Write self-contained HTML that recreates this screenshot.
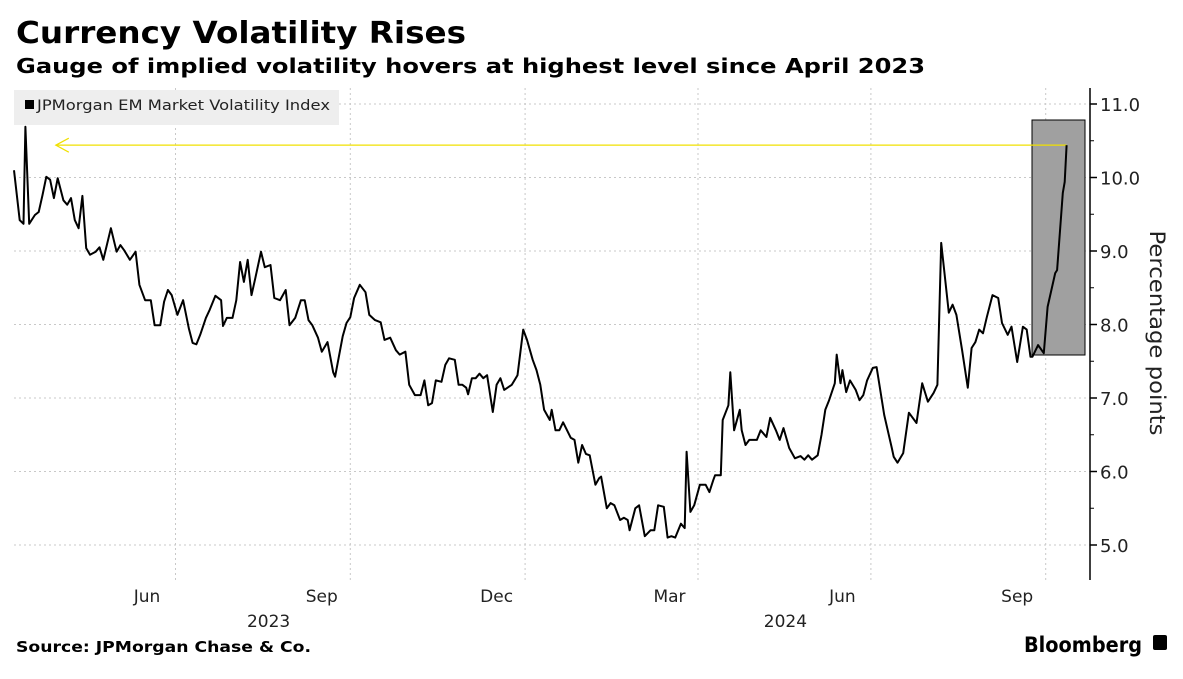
<!DOCTYPE html>
<html><head><meta charset="utf-8">
<style>
body{margin:0;background:#fff;width:1183px;height:675px;overflow:hidden;font-family:"DejaVu Sans","Liberation Sans",sans-serif;}
svg text{font-family:"DejaVu Sans","Liberation Sans",sans-serif;}
</style></head>
<body>
<svg id="chart" width="1183" height="675">
<text x="16" y="43" font-size="30" font-weight="bold" fill="#000" textLength="450" lengthAdjust="spacingAndGlyphs">Currency Volatility Rises</text>
<text x="16" y="73" font-size="20" font-weight="bold" fill="#000" textLength="909" lengthAdjust="spacingAndGlyphs">Gauge of implied volatility hovers at highest level since April 2023</text>
<g id="grid"></g>
<rect x="1032" y="120" width="53" height="235" fill="#a0a0a0" stroke="#000" stroke-width="1"/>
<g id="ann"></g>
<path id="line" fill="none" stroke="#000" stroke-width="2" stroke-linejoin="round"/>
<g>
<rect x="14" y="90" width="325" height="35" fill="#eeeeee"/>
<rect x="25" y="100" width="9" height="9" fill="#000"/>
<text x="37" y="110" font-size="14" fill="#222" textLength="293" lengthAdjust="spacingAndGlyphs">JPMorgan EM Market Volatility Index</text>
</g>
<g id="axes"></g>
<text transform="translate(1150,333) rotate(90)" text-anchor="middle" font-size="21" fill="#222" textLength="205" lengthAdjust="spacingAndGlyphs">Percentage points</text>
<text x="16" y="652" font-size="15" font-weight="bold" fill="#000" textLength="295" lengthAdjust="spacingAndGlyphs">Source: JPMorgan Chase &amp; Co.</text>
<text x="1024" y="652" font-size="21" font-weight="bold" fill="#000" textLength="118" lengthAdjust="spacingAndGlyphs">Bloomberg</text>
<rect x="1153" y="635" width="14" height="15" rx="2" fill="#000"/>
</svg>
<script>
const days=[0,3,5,6,8,11,13,15,17,19,21,23,26,28,30,32,34,36,38,40,43,45,47,51,54,56,58,61,64,66,69,72,73,74,77,79,81,83,86,89,92,94,96,98,101,103,106,109,110,112,115,117,119,121,123,125,127,130,132,135,137,140,143,145,148,151,153,155,157,160,162,165,168,169,173,175,177,179,182,185,187,190,193,195,198,201,203,206,208,211,214,216,218,220,222,225,227,229,232,234,236,238,239,241,243,245,247,249,252,254,256,258,262,265,268,270,273,275,277,279,282,283,285,287,289,293,295,297,299,301,303,306,308,309,312,314,316,319,321,323,324,327,329,332,335,337,339,342,344,346,348,351,353,354,356,358,361,364,366,368,369,372,373,376,377,379,382,383,385,387,391,393,396,398,401,403,405,408,411,414,416,418,420,423,425,427,429,432,433,435,436,438,440,443,445,447,449,452,454,458,462,463,465,468,471,475,478,481,484,486,488,492,494,496,499,502,504,506,508,510,512,515,518,520,523,525,528,531,533,535,536,539,542,544,548,549,552,553,554];
const values=[10.10,9.42,9.37,10.69,9.37,9.49,9.53,9.76,10.01,9.97,9.72,9.99,9.69,9.63,9.72,9.42,9.31,9.75,9.04,8.95,8.99,9.05,8.88,9.31,8.99,9.08,9.01,8.88,8.99,8.54,8.33,8.33,8.16,7.99,7.99,8.31,8.47,8.40,8.13,8.33,7.95,7.75,7.73,7.86,8.09,8.20,8.39,8.33,7.98,8.09,8.09,8.33,8.85,8.58,8.88,8.40,8.63,8.99,8.78,8.81,8.36,8.33,8.47,7.99,8.09,8.33,8.33,8.06,7.99,7.82,7.63,7.76,7.35,7.29,7.84,8.02,8.10,8.36,8.54,8.44,8.13,8.06,8.03,7.79,7.82,7.65,7.59,7.63,7.18,7.04,7.04,7.24,6.90,6.93,7.24,7.22,7.45,7.54,7.52,7.18,7.18,7.14,7.05,7.27,7.27,7.33,7.27,7.31,6.81,7.18,7.27,7.11,7.18,7.31,7.93,7.79,7.52,7.38,7.18,6.84,6.70,6.84,6.56,6.56,6.67,6.46,6.43,6.12,6.36,6.24,6.22,5.82,5.91,5.93,5.50,5.57,5.54,5.34,5.37,5.34,5.20,5.50,5.54,5.12,5.20,5.20,5.54,5.52,5.10,5.12,5.10,5.29,5.23,6.27,5.45,5.54,5.82,5.82,5.72,5.88,5.95,5.95,6.70,6.90,7.35,6.56,6.84,6.56,6.36,6.43,6.43,6.56,6.47,6.73,6.56,6.43,6.59,6.32,6.18,6.21,6.16,6.22,6.16,6.22,6.50,6.84,6.97,7.20,7.59,7.20,7.38,7.08,7.24,7.11,6.97,7.04,7.24,7.41,7.42,6.77,6.32,6.20,6.12,6.25,6.80,6.66,7.20,6.95,7.07,7.18,9.11,8.16,8.27,8.13,7.65,7.14,7.68,7.76,7.93,7.88,8.10,8.40,8.36,8.02,7.86,7.97,7.49,7.97,7.93,7.56,7.56,7.72,7.61,8.24,8.70,8.74,9.79,9.94,10.44];
const yTicks=[5,6,7,8,9,10,11];
const yTickLabels=["5.0","6.0","7.0","8.0","9.0","10.0","11.0"];
const xTickDays=[85,177,269,360,451,543];
const xTickLabels=["Jun","Sep","Dec","Mar","Jun","Sep"];
const yearLabels=["2023","2024"];
const yearDays=[134,406];
const highLevel=10.44;

const NS="http://www.w3.org/2000/svg";
const X=d=>14+d*1.9;
const Y=v=>545-(v-5)*73.5;
function mk(tag,attrs,parent){const e=document.createElementNS(NS,tag);for(const k in attrs)e.setAttribute(k,attrs[k]);parent.appendChild(e);return e;}
const grid=document.getElementById('grid'),axes=document.getElementById('axes'),ann=document.getElementById('ann');
yTicks.forEach((t,i)=>{
  const g=mk('line',{x1:14,x2:1090,y1:Y(t),y2:Y(t),stroke:'#c8c8c8','stroke-dasharray':'2,3'},grid);
  
  
  const tk=mk('line',{x1:1090,x2:1097,y1:Y(t),y2:Y(t),stroke:'#000','stroke-width':1.5},axes);
  
  
  const lb=mk('text',{x:1100,y:Y(t)+7,'font-size':18,fill:'#222'},axes);
  lb.textContent=yTickLabels[i];
  
  
  if(i<yTicks.length-1){
    const m=mk('line',{x1:1090,x2:1094,y1:Y(t+0.5),y2:Y(t+0.5),stroke:'#000'},axes);
    
    
  }
});
const ax=mk('line',{x1:1090,x2:1090,y1:88,y2:580,stroke:'#000','stroke-width':1.5},axes);


xTickDays.forEach((d,i)=>{
  const g=mk('line',{x1:X(d),x2:X(d),y1:88,y2:580,stroke:'#c8c8c8','stroke-dasharray':'2,3'},grid);
  
  
  const lb=mk('text',{x:X(d-15),y:602,'font-size':17,fill:'#222','text-anchor':'middle'},axes);
  lb.textContent=xTickLabels[i];
  
  
});
yearLabels.forEach((t,i)=>{
  const lb=mk('text',{x:X(yearDays[i]),y:627,'font-size':17,fill:'#222','text-anchor':'middle'},axes);
  lb.textContent=t;
  
  
});
const yl=Y(highLevel);
const al=mk('line',{x1:X(22),x2:X(days[days.length-1]),y1:yl,y2:yl,stroke:'#f0e000','stroke-width':1.2},ann);


const ah=mk('polyline',{points:`${X(22)+13},${yl-7} ${X(22)},${yl} ${X(22)+13},${yl+7}`,fill:'none',stroke:'#f0e000','stroke-width':1.2},ann);


document.getElementById('line').setAttribute('d',days.map((d,i)=>(i?'L':'M')+X(d).toFixed(1)+','+Y(values[i]).toFixed(1)).join(''));
</script>
</body></html>
